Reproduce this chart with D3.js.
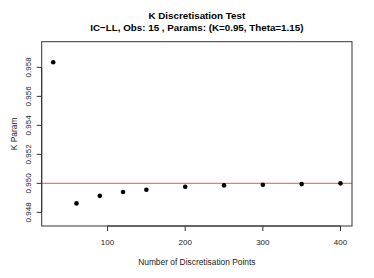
<!DOCTYPE html>
<html>
<head>
<meta charset="utf-8">
<script src="https://cdn.jsdelivr.net/npm/d3@7"></script>
<style>
  body { margin: 0; background: #fff; }
  text { font-family: "Liberation Sans", Arial, sans-serif; }
</style>
</head>
<body>
<svg id="chart"></svg>
<script>
'use strict';

var points = [30, 60, 90, 120, 150, 200, 250, 300, 350, 400];
var kParam = [0.95835, 0.94862, 0.94914, 0.9494, 0.94956, 0.94977, 0.94986, 0.9499, 0.94995, 0.95];
var xTicks = [100, 200, 300, 400];
var yTicks = [0.948, 0.950, 0.952, 0.954, 0.956, 0.958];
var trueK = 0.95;

function show_chart() {
    var width = 374,
        height = 278,
        left = 41.7, right = 352, top = 41.7, bottom = 226;

    var svg = d3.select("#chart")
                .attr("width", width)
                .attr("height", height);

    var x = d3.scaleLinear().domain([15.2, 414.8]).range([left, right]);
    var y = d3.scaleLinear().domain([0.94706, 0.95977]).range([bottom, top]);

    // red reference line at the true K
    svg.append("line")
        .attr("x1", left).attr("x2", right)
        .attr("y1", y(trueK)).attr("y2", y(trueK))
        .attr("stroke", "#f47474")
        .attr("stroke-width", 1.4);

    svg.selectAll(".pt")
        .data(points)
        .enter().append("circle")
            .attr("class", "pt")
            .attr("cx", function(d) { return x(d); })
            .attr("cy", function(d, i) { return y(kParam[i]); })
            .attr("r", 2.3)
            .attr("fill", "#000");

    svg.append("rect")
        .attr("x", left).attr("y", top)
        .attr("width", right - left).attr("height", bottom - top)
        .attr("fill", "none")
        .attr("stroke", "#333")
        .attr("stroke-width", 1);

    // x axis
    var xa = svg.append("g");
    xa.append("line")
        .attr("x1", x(xTicks[0])).attr("x2", x(xTicks[xTicks.length - 1]))
        .attr("y1", bottom).attr("y2", bottom)
        .attr("stroke", "#333");
    xa.selectAll(".xt")
        .data(xTicks)
        .enter().append("line")
            .attr("x1", function(d) { return x(d); })
            .attr("x2", function(d) { return x(d); })
            .attr("y1", bottom).attr("y2", bottom + 5)
            .attr("stroke", "#333");
    xa.selectAll(".xl")
        .data(xTicks)
        .enter().append("text")
            .attr("x", function(d) { return x(d); })
            .attr("y", 245)
            .attr("text-anchor", "middle")
            .attr("font-size", "8px")
            .attr("fill", "#222")
            .text(function(d) { return d; });

    // y axis
    var ya = svg.append("g");
    ya.append("line")
        .attr("x1", left).attr("x2", left)
        .attr("y1", y(yTicks[0])).attr("y2", y(yTicks[yTicks.length - 1]))
        .attr("stroke", "#333");
    ya.selectAll(".yt")
        .data(yTicks)
        .enter().append("line")
            .attr("x1", left - 5).attr("x2", left)
            .attr("y1", function(d) { return y(d); })
            .attr("y2", function(d) { return y(d); })
            .attr("stroke", "#333");
    ya.selectAll(".yl")
        .data(yTicks)
        .enter().append("text")
            .attr("transform", function(d) { return "translate(31," + y(d) + ") rotate(-90)"; })
            .attr("text-anchor", "middle")
            .attr("font-size", "8px")
            .attr("fill", "#222")
            .text(function(d) { return d3.format(".3f")(d); });

    svg.append("text")
        .attr("transform", "translate(17," + ((top + bottom) / 2) + ") rotate(-90)")
        .attr("text-anchor", "middle")
        .attr("font-size", "8.4px")
        .attr("fill", "#222")
        .text("K Param");

    svg.append("text")
        .attr("x", (left + right) / 2).attr("y", 265)
        .attr("text-anchor", "middle")
        .attr("font-size", "8.4px")
        .attr("fill", "#222")
        .text("Number of Discretisation Points");

    svg.append("text")
        .attr("x", (left + right) / 2).attr("y", 19)
        .attr("text-anchor", "middle")
        .attr("font-size", "9.8px")
        .attr("font-weight", "bold")
        .text("K Discretisation Test");

    svg.append("text")
        .attr("x", (left + right) / 2).attr("y", 30.5)
        .attr("text-anchor", "middle")
        .attr("font-size", "9.8px")
        .attr("font-weight", "bold")
        .text("IC\u2212LL, Obs: 15 , Params: (K=0.95, Theta=1.15)");
}

show_chart();
</script>
</body>
</html>
